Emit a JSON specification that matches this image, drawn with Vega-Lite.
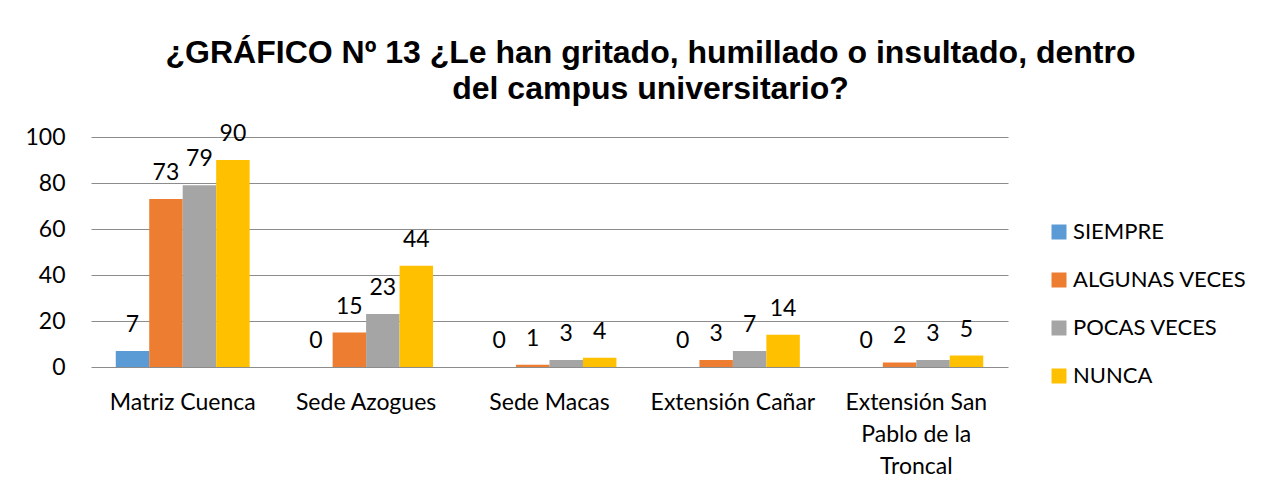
{
  "$schema": "https://vega.github.io/schema/vega-lite/v6.json",
  "width": 917,
  "height": 230,
  "autosize": {"type": "none"},
  "padding": {"left": 91, "top": 137, "right": 256, "bottom": 124},
  "background": "white",
  "title": {
    "text": ["¿GRÁFICO Nº 13 ¿Le han gritado, humillado o insultado, dentro", "del campus universitario?"],
    "font": "Liberation Sans",
    "fontSize": 32,
    "fontWeight": "bold",
    "color": "#000000",
    "anchor": "middle",
    "dx": 101,
    "offset": 17,
    "lineHeight": 36,
    "limit": 1200
  },
  "config": {
    "view": {"stroke": null},
    "font": "Lato"
  },
  "data": {
    "values": [
      {"sede": "Matriz Cuenca", "respuesta": "SIEMPRE", "valor": 7},
      {"sede": "Matriz Cuenca", "respuesta": "ALGUNAS VECES", "valor": 73},
      {"sede": "Matriz Cuenca", "respuesta": "POCAS VECES", "valor": 79},
      {"sede": "Matriz Cuenca", "respuesta": "NUNCA", "valor": 90},
      {"sede": "Sede Azogues", "respuesta": "SIEMPRE", "valor": 0},
      {"sede": "Sede Azogues", "respuesta": "ALGUNAS VECES", "valor": 15},
      {"sede": "Sede Azogues", "respuesta": "POCAS VECES", "valor": 23},
      {"sede": "Sede Azogues", "respuesta": "NUNCA", "valor": 44},
      {"sede": "Sede Macas", "respuesta": "SIEMPRE", "valor": 0},
      {"sede": "Sede Macas", "respuesta": "ALGUNAS VECES", "valor": 1},
      {"sede": "Sede Macas", "respuesta": "POCAS VECES", "valor": 3},
      {"sede": "Sede Macas", "respuesta": "NUNCA", "valor": 4},
      {"sede": "Extensión Cañar", "respuesta": "SIEMPRE", "valor": 0},
      {"sede": "Extensión Cañar", "respuesta": "ALGUNAS VECES", "valor": 3},
      {"sede": "Extensión Cañar", "respuesta": "POCAS VECES", "valor": 7},
      {"sede": "Extensión Cañar", "respuesta": "NUNCA", "valor": 14},
      {"sede": "Extensión San Pablo de la Troncal", "respuesta": "SIEMPRE", "valor": 0},
      {"sede": "Extensión San Pablo de la Troncal", "respuesta": "ALGUNAS VECES", "valor": 2},
      {"sede": "Extensión San Pablo de la Troncal", "respuesta": "POCAS VECES", "valor": 3},
      {"sede": "Extensión San Pablo de la Troncal", "respuesta": "NUNCA", "valor": 5}
    ]
  },
  "encoding": {
    "x": {
      "field": "sede",
      "type": "nominal",
      "sort": ["Matriz Cuenca", "Sede Azogues", "Sede Macas", "Extensión Cañar", "Extensión San Pablo de la Troncal"],
      "scale": {"paddingInner": 0.27, "paddingOuter": 0.135},
      "axis": {
        "title": null,
        "labelAngle": 0,
        "labelFont": "Lato",
        "labelFontSize": 23,
        "labelColor": "#000000",
        "labelPadding": 24,
        "labelBaseline": "top",
        "labelLineHeight": 32,
        "labelLimit": 0,
        "ticks": false,
        "domain": false,
        "labelExpr": "datum.value == 'Extensión San Pablo de la Troncal' ? ['Extensión San', 'Pablo de la', 'Troncal'] : datum.value"
      }
    },
    "xOffset": {
      "field": "respuesta",
      "type": "nominal",
      "sort": ["SIEMPRE", "ALGUNAS VECES", "POCAS VECES", "NUNCA"],
      "scale": {"paddingInner": 0, "paddingOuter": 0}
    },
    "y": {
      "field": "valor",
      "type": "quantitative",
      "scale": {"domain": [0, 100], "nice": false},
      "axis": {
        "title": null,
        "values": [0, 20, 40, 60, 80, 100],
        "labelFont": "Lato",
        "labelFontSize": 23,
        "labelColor": "#000000",
        "labelPadding": 26,
        "ticks": false,
        "domain": false,
        "grid": true,
        "gridColor": "#8c8c8c",
        "gridWidth": 1
      }
    }
  },
  "layer": [
    {
      "mark": {"type": "bar"},
      "encoding": {
        "color": {
          "field": "respuesta",
          "type": "nominal",
          "sort": ["SIEMPRE", "ALGUNAS VECES", "POCAS VECES", "NUNCA"],
          "scale": {
            "domain": ["SIEMPRE", "ALGUNAS VECES", "POCAS VECES", "NUNCA"],
            "range": ["#5B9BD5", "#ED7D31", "#A5A5A5", "#FFC000"]
          },
          "legend": {
            "title": null,
            "orient": "none",
            "legendX": 957,
            "legendY": 84,
            "padding": 0,
            "symbolType": "square",
            "symbolSize": 225,
            "symbolStrokeWidth": 0,
            "labelFont": "Lato",
            "labelFontSize": 22,
            "labelColor": "#000000",
            "labelOffset": 3,
            "rowPadding": 26,
            "labelLimit": 0
          }
        }
      }
    },
    {
      "mark": {
        "type": "text",
        "baseline": "alphabetic",
        "align": "center",
        "dy": -19,
        "font": "Lato",
        "fontSize": 23,
        "color": "#000000"
      },
      "encoding": {
        "text": {"field": "valor", "type": "quantitative"}
      }
    }
  ]
}
